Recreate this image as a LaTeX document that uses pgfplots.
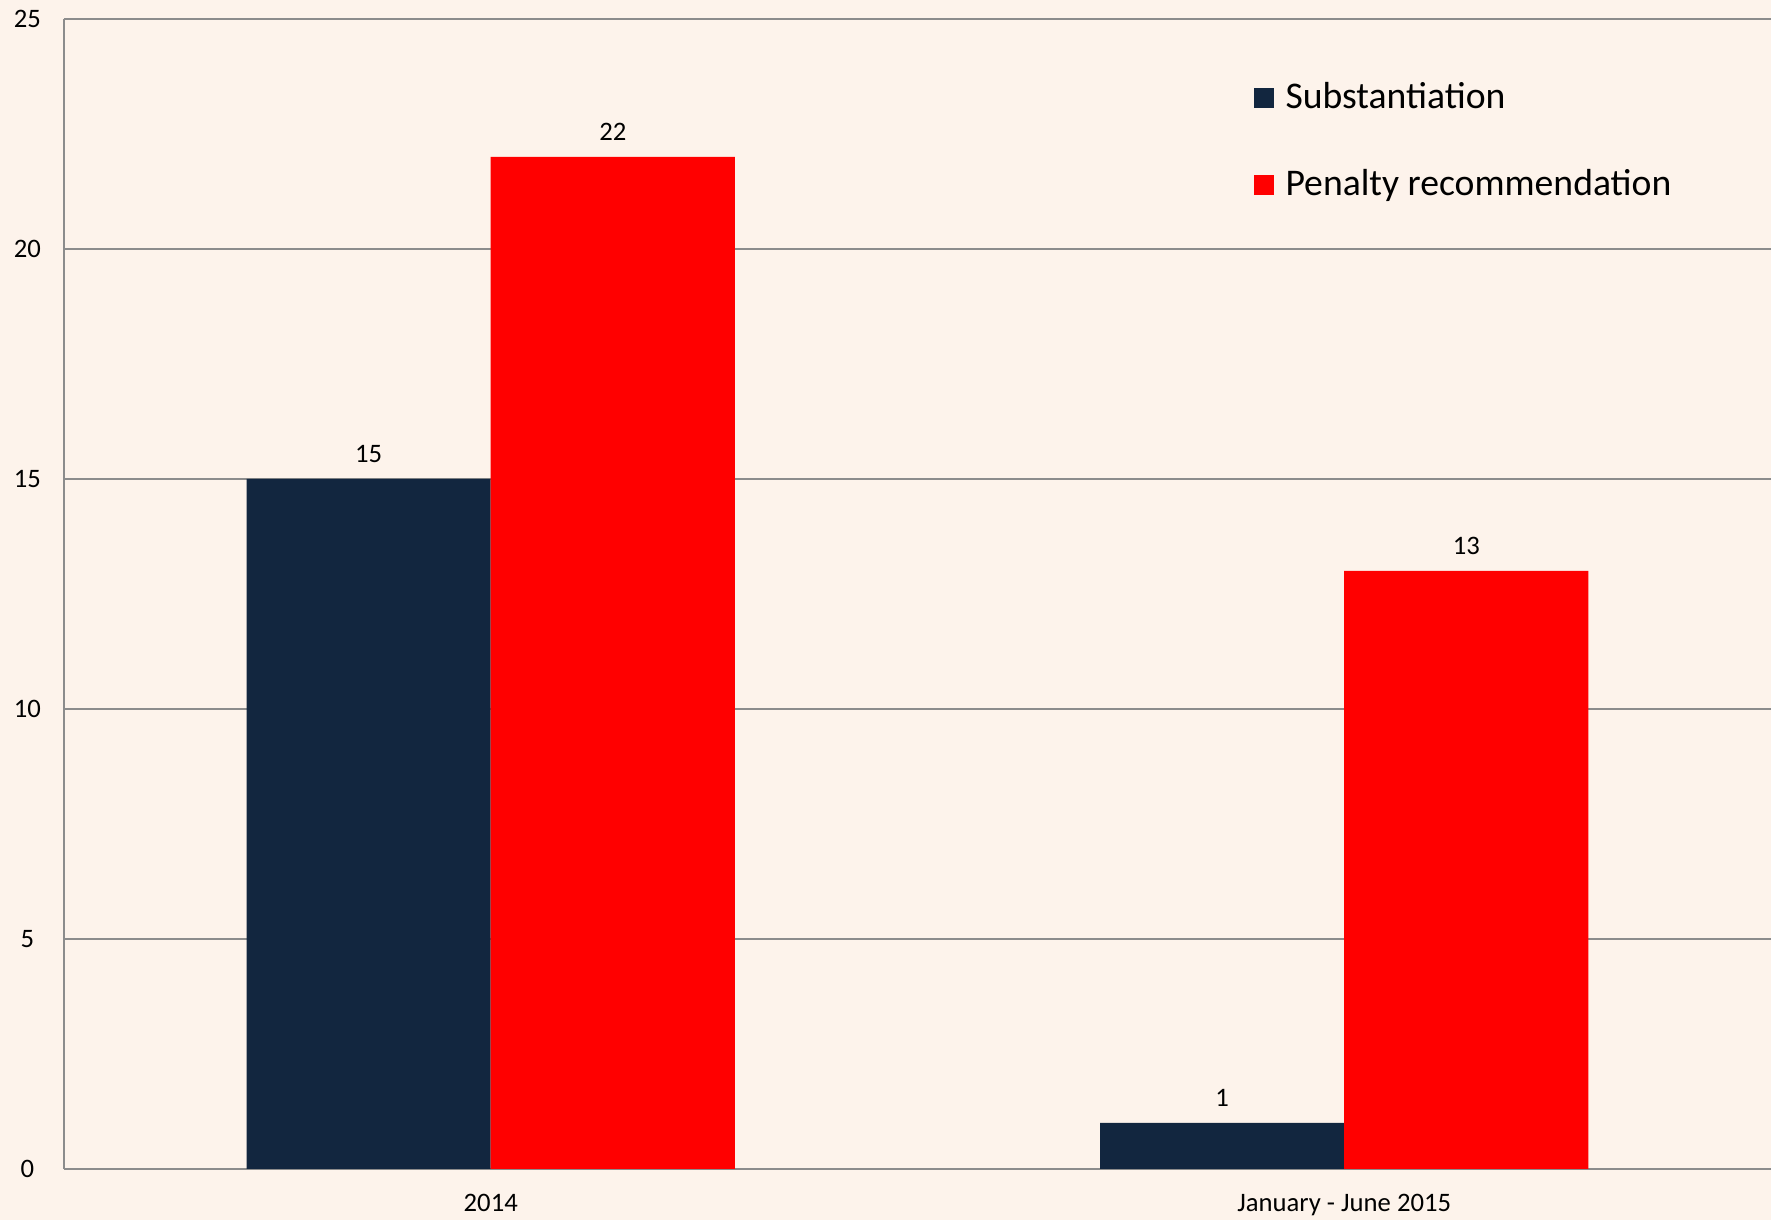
\documentclass[border=0pt]{standalone}
\usepackage{pgfplots}
\pgfplotsset{compat=1.18}
\usepackage{fontspec}
\setmainfont{Carlito}
\definecolor{bgcol}{HTML}{FDF3EB}
\definecolor{navy}{HTML}{12263F}
\definecolor{gridgray}{HTML}{8C8C8C}
\begin{document}
\begin{tikzpicture}
\fill[bgcol] (0,0) rectangle (531.3pt,366pt);
\path[use as bounding box] (0,0) rectangle (531.3pt,366pt);
\begin{axis}[
  at={(19.2pt,15.3pt)}, anchor=south west,
  width=512.1pt, height=345pt, scale only axis,
  ybar=0pt, bar width=0.286,
  xmin=-0.5, xmax=1.5, ymin=0, ymax=25,
  enlargelimits=false,
  xtick={0,1}, xticklabels={2014, January - June 2015},
  ytick={0,5,...,25},
  major tick length=0pt,
  axis lines*=left,
  axis line style={-, draw=gridgray, line width=0.6pt},
  ymajorgrids,
  major grid style={draw=gridgray, line width=0.6pt},
  /pgf/number format/assume math mode=true,
  tick label style={font=\fontsize{8}{9}\selectfont},
  yticklabel style={anchor=center, xshift=-11pt},
  xticklabel style={yshift=-4pt},
  nodes near coords,
  nodes near coords style={font=\fontsize{8}{9}\selectfont, yshift=1.5pt, text=black},
  legend style={draw=none, fill=none, at={(0.691,0.957)}, anchor=north west,
    font=\fontsize{11.3}{13}\selectfont, row sep=12.8pt},
  legend cell align=left,
  legend image code/.code={\fill[#1] (0pt,-2.9pt) rectangle (5.9pt,2.9pt);},
  /tikz/every odd column/.append style={column sep=1.5pt},
  clip=false,
]
\addplot[fill=navy, draw=none] coordinates {(0,15) (1,1)};
\addplot[fill=red, draw=none] coordinates {(0,22) (1,13)};
\legend{Substantiation, Penalty recommendation}
\end{axis}
\end{tikzpicture}
\end{document}
